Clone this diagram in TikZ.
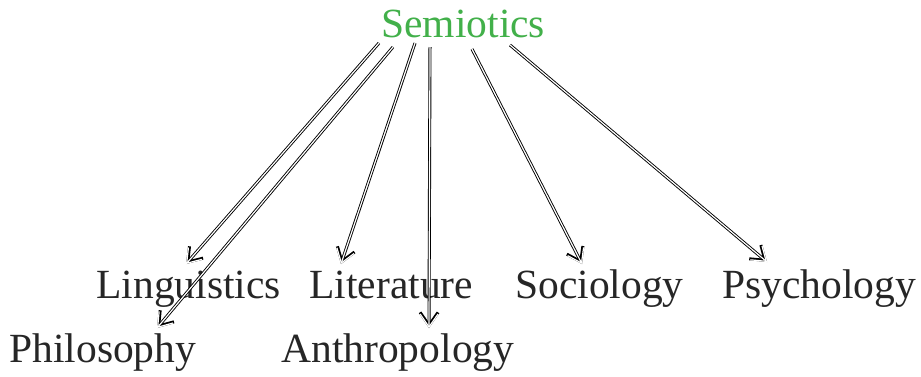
\documentclass[tikz,border=0pt]{standalone}
\usepackage{fontspec}
\setmainfont{Liberation Serif}
\usetikzlibrary{arrows.meta}

\begin{document}
\begin{tikzpicture}[x=0.5pt, y=-0.5pt,
    field/.style={anchor=base west, inner sep=0pt, font=\fontsize{20.75}{24}\selectfont, text=black!85},
    link/.style={line width=1.5pt, -{Straight Barb[length=6.5pt 0, width=9pt 0]},
        postaction={draw=white, line width=0.6pt, -{Straight Barb[length=6.5pt 0, width=9pt 0]}}}]
    \useasboundingbox (0,0) rectangle (921,376);

    % Root
    \node[field, text={rgb,255:red,66;green,176;blue,74}] (sem) at (381,37) {Semiotics};

    % First row
    \node[field] (ling) at (96,298) {Linguistics};
    \node[field] (lit) at (309,298) {Literature};
    \node[field] (soc) at (515,298) {Sociology};
    \node[field] (psy) at (722,298) {Psychology};

    % Second row
    \node[field] (phil) at (9,362) {Philosophy};
    \node[field] (anth) at (281,362) {Anthropology};

    % Links
    \draw[link] ([xshift=-1pt, yshift=-3pt]sem.base west) -- ([xshift=45pt, yshift=17pt]ling.base west);
    \draw[link] ([xshift=6pt, yshift=-5pt]sem.base west) -- ([xshift=74pt, yshift=17pt]phil.base west);
    \draw[link] ([xshift=17pt, yshift=-3pt]sem.base west) -- ([xshift=16pt, yshift=17pt]lit.base west);
    \draw[link] ([xshift=24.5pt, yshift=-5pt]sem.base west) -- ([xshift=74pt, yshift=17pt]anth.base west);
    \draw[link] ([xshift=45.5pt, yshift=-6pt]sem.base west) -- ([xshift=33.5pt, yshift=17pt]soc.base west);
    \draw[link] ([xshift=64.5pt, yshift=-4pt]sem.base west) -- ([xshift=22.5pt, yshift=18pt]psy.base west);
\end{tikzpicture}
\end{document}
